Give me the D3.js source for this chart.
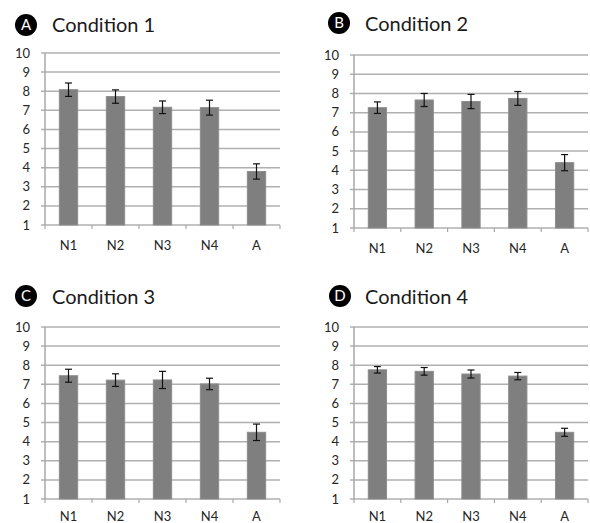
<!DOCTYPE html>
<html><head><meta charset="utf-8">
<script src="https://cdn.jsdelivr.net/npm/d3@7"></script>
<style>body{margin:0;background:#fff}svg{display:block}</style>
</head><body>
<svg id="c" width="590" height="523"></svg>
<script>
const categories = ["N1","N2","N3","N4","A"];
const yTicks = [1,2,3,4,5,6,7,8,9,10];
const panelLetters = ["A","B","C","D"];
const panelTitles = ["Condition 1","Condition 2","Condition 3","Condition 4"];
const means1 = [8.08, 7.72, 7.16, 7.14, 3.80];
const errs1  = [0.35, 0.35, 0.33, 0.39, 0.40];
const means2 = [7.26, 7.66, 7.58, 7.74, 4.40];
const errs2  = [0.30, 0.34, 0.37, 0.36, 0.42];
const means3 = [7.45, 7.22, 7.23, 7.02, 4.49];
const errs3  = [0.34, 0.33, 0.45, 0.30, 0.43];
const means4 = [7.76, 7.68, 7.54, 7.43, 4.49];
const errs4  = [0.17, 0.20, 0.21, 0.19, 0.21];

const panels = [
  {means: means1, errs: errs1, x0: 45, x1: 280, yTop: 53, yBot: 225, cx: 26, cy: 25, tx: 52, ty: 32},
  {means: means2, errs: errs2, x0: 354, x1: 588, yTop: 55, yBot: 228, cx: 339, cy: 23, tx: 365, ty: 31},
  {means: means3, errs: errs3, x0: 45, x1: 280, yTop: 327, yBot: 499, cx: 26, cy: 296, tx: 52, ty: 304},
  {means: means4, errs: errs4, x0: 354, x1: 588, yTop: 327, yBot: 499, cx: 340, cy: 296, tx: 365, ty: 304}
];

const svg = d3.select("#c");
const font = "Lato, 'Open Sans', sans-serif";

panels.forEach((p, i) => {
  const g = svg.append("g");
  const x = d3.scaleBand().domain(categories).range([p.x0, p.x1]).paddingInner(0.61).paddingOuter(0.305);
  const y = d3.scaleLinear().domain([1, 10]).range([p.yBot, p.yTop]);

  // gridlines
  g.selectAll("line.grid").data(yTicks).join("line")
    .attr("x1", p.x0 - 4).attr("x2", p.x1)
    .attr("y1", d => y(d)).attr("y2", d => y(d))
    .attr("stroke", "#b0b0b0").attr("stroke-width", 1.5);

  // y axis line
  g.append("line").attr("x1", p.x0).attr("x2", p.x0).attr("y1", y(10)).attr("y2", y(1))
    .attr("stroke", "#a8a8a8").attr("stroke-width", 1.5);

  // x tick marks at band boundaries
  const step = x.step();
  const bounds = d3.range(categories.length + 1).map(k => p.x0 + k * step);
  g.selectAll("line.xt").data(bounds).join("line")
    .attr("x1", d => d).attr("x2", d => d)
    .attr("y1", y(1)).attr("y2", y(1) + 4)
    .attr("stroke", "#a8a8a8").attr("stroke-width", 1.2);

  // y tick labels
  g.selectAll("text.yl").data(yTicks).join("text")
    .attr("x", p.x0 - 15).attr("y", d => y(d)).attr("dy", "0.35em")
    .attr("text-anchor", "end").attr("font-family", font).attr("font-size", 13)
    .attr("fill", "#262626").text(d => d);

  // bars
  g.selectAll("rect.bar").data(categories).join("rect")
    .attr("x", d => x(d)).attr("width", x.bandwidth())
    .attr("y", (d, k) => y(p.means[k])).attr("height", (d, k) => y(1) - y(p.means[k]))
    .attr("fill", "#7f7f7f").attr("stroke", "#8c8c8c").attr("stroke-width", 1);

  // error bars
  const cxs = categories.map(c => x(c) + x.bandwidth() / 2);
  categories.forEach((c, k) => {
    const hi = y(p.means[k] + p.errs[k]), lo = y(p.means[k] - p.errs[k]);
    g.append("line").attr("x1", cxs[k]).attr("x2", cxs[k]).attr("y1", hi).attr("y2", lo)
      .attr("stroke", "#111").attr("stroke-width", 1.2);
    [hi, lo].forEach(yy => g.append("line").attr("x1", cxs[k] - 3.5).attr("x2", cxs[k] + 3.5)
      .attr("y1", yy).attr("y2", yy).attr("stroke", "#111").attr("stroke-width", 1.2));
  });

  // category labels
  g.selectAll("text.xl").data(categories).join("text")
    .attr("x", d => x(d) + x.bandwidth() / 2).attr("y", Math.min(y(1) + 25, 521))
    .attr("text-anchor", "middle").attr("font-family", font).attr("font-size", 13)
    .attr("fill", "#262626").text(d => d);

  // title badge
  g.append("circle").attr("cx", p.cx).attr("cy", p.cy).attr("r", 11).attr("fill", "#000");
  g.append("text").attr("x", p.cx).attr("y", p.cy).attr("dy", "0.36em").attr("text-anchor", "middle")
    .attr("font-family", font).attr("font-size", 15).attr("fill", "#fff").text(panelLetters[i]);
  g.append("text").attr("x", p.tx).attr("y", p.ty).attr("font-family", font).attr("font-size", 20)
    .attr("fill", "#1a1a1a").text(panelTitles[i]);
});
</script>
</body></html>
